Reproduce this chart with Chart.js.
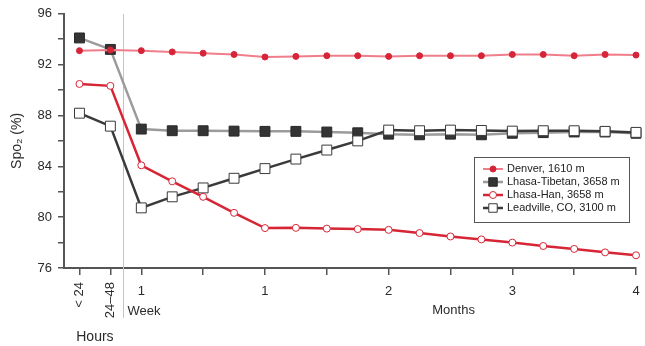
<!DOCTYPE html>
<html lang="en">
<head>
<meta charset="UTF-8" />
<title>SpO2 at altitude</title>
<script src="https://cdn.jsdelivr.net/npm/chart.js"></script>
<style>
  html, body { margin: 0; padding: 0; background: #fff; }
  #wrap { width: 645px; height: 346px; }
</style>
</head>
<body>
<div id="wrap"><canvas id="chart" width="645" height="346"></canvas></div>
<script>
// x positions: -2 = "< 24" h, -1 = "24-48" h, 0 = 1 week, then quarter-month steps up to 4 months (16)
const xSteps = [-2, -1, 0, 1, 2, 3, 4, 5, 6, 7, 8, 9, 10, 11, 12, 13, 14, 15, 16];
const xTickValues = [-2, -1, 0, 2, 4, 6, 8, 10, 12, 14, 16];
const xTickLabels = { '-2': '< 24', '-1': '24\u201348', '0': '1', '4': '1', '8': '2', '12': '3', '16': '4' };

const denver   = [93.1, 93.15, 93.1, 93.0, 92.9, 92.8, 92.6, 92.65, 92.7, 92.7, 92.65, 92.7, 92.7, 92.7, 92.8, 92.8, 92.7, 92.8, 92.75];
const tibetan  = [94.1, 93.2, 86.93, 86.8, 86.8, 86.77, 86.75, 86.75, 86.7, 86.64, 86.53, 86.48, 86.53, 86.48, 86.6, 86.65, 86.7, 86.7, 86.6];
const han      = [90.48, 90.33, 84.08, 82.82, 81.6, 80.34, 79.14, 79.16, 79.1, 79.06, 79.0, 78.75, 78.48, 78.25, 78.0, 77.73, 77.5, 77.23, 77.0];
const leadville = [88.18, 87.16, 80.73, 81.6, 82.3, 83.06, 83.82, 84.57, 85.28, 86.0, 86.85, 86.8, 86.85, 86.82, 86.77, 86.8, 86.8, 86.75, 86.67];

const toPoints = arr => arr.map((v, i) => ({ x: xSteps[i], y: v }));
const FONT = 'Arial, "Liberation Sans", sans-serif';

const datasets = [
  {
    label: 'Denver, 1610 m', data: toPoints(denver), order: 1,
    borderColor: 'rgb(240,125,138)', borderWidth: 2,
    pointStyle: 'circle', pointRadius: 3, pointBorderWidth: 1,
    pointBackgroundColor: 'rgb(214,36,56)', pointBorderColor: 'rgb(214,36,56)',
    legendRadius: 3
  },
  {
    label: 'Lhasa-Tibetan, 3658 m', data: toPoints(tibetan), order: 4,
    borderColor: 'rgb(155,155,155)', borderWidth: 2.5,
    pointStyle: 'rect', pointRadius: 7, pointBorderWidth: 1,
    pointBackgroundColor: 'rgb(52,52,52)', pointBorderColor: 'rgb(40,40,40)',
    legendRadius: 6
  },
  {
    label: 'Lhasa-Han, 3658 m', data: toPoints(han), order: 2,
    borderColor: 'rgb(214,38,54)', borderWidth: 2.5,
    pointStyle: 'circle', pointRadius: 3.5, pointBorderWidth: 1,
    pointBackgroundColor: '#fff', pointBorderColor: 'rgb(214,38,54)',
    legendRadius: 3.5
  },
  {
    label: 'Leadville, CO, 3100 m', data: toPoints(leadville), order: 3,
    borderColor: 'rgb(58,58,58)', borderWidth: 2.5,
    pointStyle: 'rect', pointRadius: 7, pointBorderWidth: 1,
    pointBackgroundColor: '#fff', pointBorderColor: 'rgb(58,58,58)',
    legendRadius: 6
  }
];

const decor = {
  id: 'decor',
  beforeDatasetsDraw(chart) {
    const ctx = chart.ctx, x = chart.scales.x, area = chart.chartArea;
    const px = Math.round(x.getPixelForValue(-0.58)) + 0.5;
    ctx.save();
    ctx.strokeStyle = '#c4c4c4';
    ctx.lineWidth = 1;
    ctx.beginPath();
    ctx.moveTo(px, area.top);
    ctx.lineTo(px, 318);
    ctx.stroke();
    ctx.restore();
  },
  afterDraw(chart) {
    const ctx = chart.ctx, x = chart.scales.x;
    ctx.save();
    ctx.fillStyle = '#2a2a2a';
    ctx.font = '13px ' + FONT;
    // tick labels
    xTickValues.forEach(v => {
      const t = xTickLabels[String(v)];
      if (!t) return;
      const px = x.getPixelForValue(v);
      if (v < 0) {
        ctx.save();
        ctx.translate(px, 282);
        ctx.rotate(-Math.PI / 2);
        ctx.textAlign = 'right';
        ctx.textBaseline = 'middle';
        ctx.fillText(t, 0, 0);
        ctx.restore();
      } else {
        ctx.textAlign = 'center';
        ctx.textBaseline = 'middle';
        ctx.fillText(t, px, 291);
      }
    });
    ctx.textAlign = 'left';
    ctx.fillText('Week', x.getPixelForValue(-0.45), 311);
    ctx.textAlign = 'center';
    ctx.fillText('Months', x.getPixelForValue(10.1), 310);
    ctx.font = '14px ' + FONT;
    ctx.fillText('Hours', x.getPixelForValue(-1.5), 337);

    // legend box
    const bx = 474, by = 157, bw = 155, bh = 65;
    ctx.fillStyle = '#fff';
    ctx.fillRect(bx, by, bw, bh);
    ctx.strokeStyle = '#555';
    ctx.lineWidth = 1;
    ctx.strokeRect(bx + 0.5, by + 0.5, bw, bh);
    const rows = [169, 182, 195, 208];
    ctx.font = '11px ' + FONT;
    ctx.textAlign = 'left';
    ctx.textBaseline = 'middle';
    datasets.forEach((d, i) => {
      const y = rows[i];
      ctx.strokeStyle = d.borderColor;
      ctx.lineWidth = d.borderWidth;
      ctx.beginPath();
      ctx.moveTo(483, y);
      ctx.lineTo(503, y);
      ctx.stroke();
      ctx.fillStyle = d.pointBackgroundColor;
      ctx.strokeStyle = d.pointBorderColor;
      ctx.lineWidth = d.pointBorderWidth;
      Chart.helpers.drawPoint(ctx, { pointStyle: d.pointStyle, radius: d.legendRadius, rotation: 0, borderWidth: 1 }, 493, y);
      ctx.fillStyle = '#222';
      ctx.fillText(d.label, 507, y);
    });
    ctx.restore();
  }
};

new Chart(document.getElementById('chart'), {
  type: 'line',
  data: { datasets: datasets },
  plugins: [decor],
  options: {
    responsive: false,
    animation: false,
    layout: { padding: { top: 12, right: 9, left: 0, bottom: 0 } },
    elements: { line: { tension: 0 } },
    datasets: { line: { clip: false } },
    plugins: { legend: { display: false }, tooltip: { enabled: false } },
    scales: {
      x: {
        type: 'linear', min: -2.5, max: 16,
        afterBuildTicks: s => { s.ticks = xTickValues.map(v => ({ value: v })); },
        afterFit: s => { s.height = 78; },
        ticks: { display: false },
        grid: { drawOnChartArea: false, drawTicks: true, tickLength: 7, color: '#555', lineWidth: 1.5 },
        border: { color: '#555', width: 2 }
      },
      y: {
        min: 76, max: 96,
        afterFit: s => { s.width = 64; },
        ticks: {
          stepSize: 2,
          callback: v => (v % 4 === 0 ? v : ''),
          font: { size: 13, family: FONT }, color: '#2a2a2a', padding: 6
        },
        grid: { drawOnChartArea: false, drawTicks: true, tickLength: 6, color: '#555', lineWidth: 1.5 },
        border: { color: '#555', width: 2 },
        title: { display: true, text: 'Spo\u2082 (%)', font: { size: 14, family: FONT }, color: '#2a2a2a', padding: { top: 9, bottom: 0 } }
      }
    }
  }
});
</script>
</body>
</html>
